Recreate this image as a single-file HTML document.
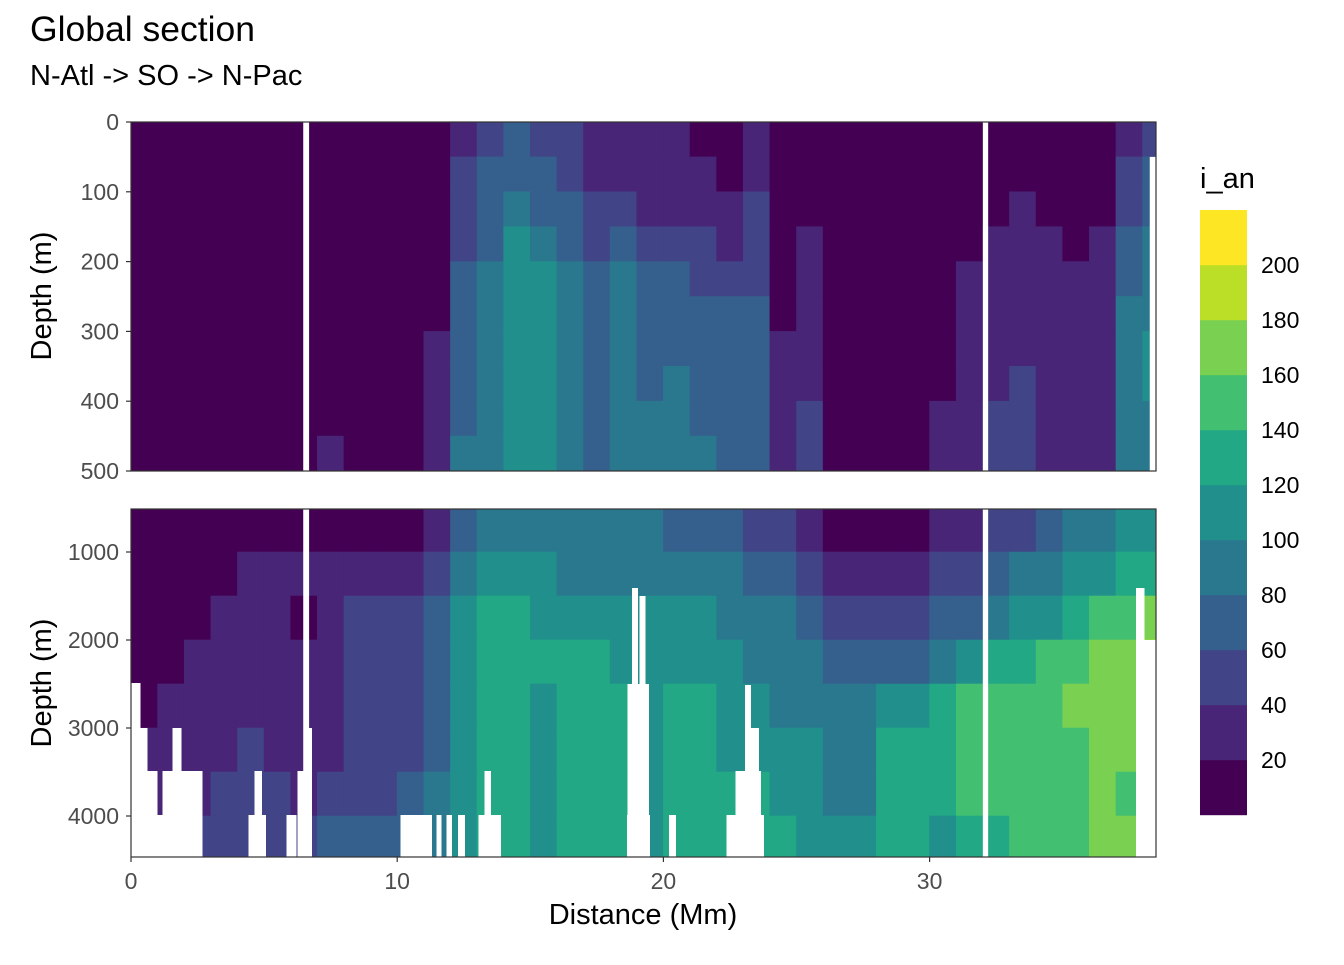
<!DOCTYPE html>
<html><head><meta charset="utf-8">
<style>
body{margin:0;background:#fff;}
svg text{font-family:"Liberation Sans",sans-serif;}
</style></head>
<body>
<svg id="chart" xmlns="http://www.w3.org/2000/svg" width="1344" height="960" viewBox="0 0 1344 960">
<rect width="1344" height="960" fill="#fff"/>
<text x="30" y="41" font-size="35.5" fill="#000">Global section</text>
<text x="30" y="85" font-size="29" fill="#000">N-Atl -&gt; SO -&gt; N-Pac</text>
<defs>
<clipPath id="clipTop"><rect x="131" y="122" width="1025" height="349"/></clipPath>
<clipPath id="clipBot"><rect x="131" y="509" width="1025" height="348"/></clipPath>
</defs>
<g id="topPanel" clip-path="url(#clipTop)"></g>
<g id="botPanel" clip-path="url(#clipBot)"></g>
<rect x="131" y="122" width="1025" height="349" fill="none" stroke="#333" stroke-width="1.2"/>
<rect x="131" y="509" width="1025" height="348" fill="none" stroke="#333" stroke-width="1.2"/>
<g id="axes"></g>
<text transform="translate(51,296) rotate(-90)" text-anchor="middle" font-size="29" fill="#000">Depth (m)</text>
<text transform="translate(51,683) rotate(-90)" text-anchor="middle" font-size="29" fill="#000">Depth (m)</text>
<text x="643" y="924" text-anchor="middle" font-size="29" fill="#000">Distance (Mm)</text>
<text x="1200" y="188" font-size="29" fill="#000">i_an</text>
<g id="legend"></g>
</svg>
<script>
const viridis = ["#440154","#482576","#414487","#35608D","#2A788E","#21908C","#22A884","#43BF71","#7AD151","#BBDF27","#FDE725"];
const legendBreaks = [20,40,60,80,100,120,140,160,180,200];
const distances = [0,1,2,3,4,5,6,7,8,9,10,11,12,13,14,15,16,17,18,19,20,21,22,23,24,25,26,27,28,29,30,31,32,33,34,35,36,37,38];
const topDepthEdges = [0,50,100,150,200,250,300,350,400,450,500];
const botDepthEdges = [500,1000,1500,2000,2500,3000,3500,4000,4500];
const topTicks = [0,100,200,300,400,500];
const botTicks = [1000,2000,3000,4000];
const xTicks = [0,10,20,30];
// i_an values, one array per distance column, shallow -> deep
const topCols = [
[10,10,10,10,10,10,10,10,10,10],[10,10,10,10,10,10,10,10,10,10],[10,10,10,10,10,10,10,10,10,10],
[10,10,10,10,10,10,10,10,10,10],[10,10,10,10,10,10,10,10,10,10],[10,10,10,10,10,10,10,10,10,10],
[10,10,10,10,10,10,10,10,10,10],[10,10,10,10,10,10,10,10,10,30],[10,10,10,10,10,10,10,10,10,10],
[10,10,10,10,10,10,10,10,10,10],[10,10,10,10,10,10,10,10,10,10],
[10,10,10,10,10,10,30,30,30,30],
[30,50,50,50,70,70,70,70,70,90],
[50,70,70,70,90,90,90,90,90,90],
[70,70,90,110,110,110,110,110,110,110],
[50,70,70,90,110,110,110,110,110,110],
[50,50,70,70,90,90,90,90,90,90],
[30,30,50,50,70,70,70,70,70,70],
[30,30,50,70,90,90,90,90,90,90],
[30,30,30,50,70,70,70,70,90,90],
[30,30,30,50,70,70,70,90,90,90],
[10,30,30,50,50,70,70,70,70,90],
[10,10,30,30,50,70,70,70,70,70],
[30,30,50,50,50,70,70,70,70,70],
[10,10,10,10,10,10,30,30,30,30],
[10,10,10,30,30,30,30,30,50,50],
[10,10,10,10,10,10,10,10,10,10],[10,10,10,10,10,10,10,10,10,10],[10,10,10,10,10,10,10,10,10,10],[10,10,10,10,10,10,10,10,10,10],
[10,10,10,10,10,10,10,10,30,30],
[10,10,10,10,30,30,30,30,30,30],
[10,10,10,30,30,30,30,30,50,50],
[10,10,30,30,30,30,30,50,50,50],
[10,10,10,30,30,30,30,30,30,30],
[10,10,10,10,30,30,30,30,30,30],
[10,10,10,30,30,30,30,30,30,30],
[30,50,50,70,70,90,90,90,90,90],
[50,70,70,90,90,90,110,110,90,90]
];
const botCols = [
[10,10,10,10,10,30,30,30],[10,10,10,10,30,30,30,30],[10,10,10,30,30,30,30,50],[10,10,30,30,30,30,50,50],
[10,30,30,30,30,50,50,50],[10,30,30,30,30,30,50,50],[10,30,10,30,30,30,30,50],[10,30,30,30,30,30,50,70],
[10,30,50,50,50,50,50,70],[10,30,50,50,50,50,50,70],[10,30,50,50,50,50,70,70],
[30,50,70,70,70,70,90,90],
[70,90,110,110,110,110,110,110],
[90,110,130,130,130,130,130,130],
[90,110,130,130,130,130,130,130],
[90,110,110,130,110,110,110,110],
[90,90,110,130,130,130,130,130],
[90,90,110,130,130,130,130,130],
[90,90,110,110,130,130,130,130],
[90,90,110,110,110,110,110,110],
[70,90,110,110,130,130,130,130],
[70,90,110,110,130,130,130,130],
[70,90,90,110,110,110,130,130],
[50,70,90,90,110,110,130,130],
[50,70,90,90,90,110,110,130],
[30,50,70,90,90,110,110,110],
[10,30,50,70,90,90,90,110],
[10,30,50,70,90,90,90,110],
[10,30,50,70,110,130,130,130],
[10,30,50,70,110,130,130,130],
[30,50,70,90,130,130,130,110],
[30,50,70,110,150,150,150,130],
[50,70,90,130,150,150,150,130],
[50,90,110,130,150,150,150,150],
[70,90,110,150,150,150,150,150],
[90,110,130,150,170,150,150,150],
[90,110,150,170,170,170,170,170],
[110,130,150,170,170,170,150,170],
[110,130,170,190,190,190,190,190]
];
// missing-data vertical gaps (distance start/end, Mm)
const gapStarts = [6.47, 32.0];
const gapEnds = [6.69, 32.2];
// bottom topography masks
const bathyD0 = [0,0.34,0.6,0.98,1.2,1.58,1.88,4.44,4.66,5.86,6.28,6.54,10.15,11.5,11.88,12.3,13.08,13.3,13.5,18.65,18.68,18.84,19.12,20.23,22.4,22.74,23.08,23.27,37.78,37.78];
const bathyD1 = [0.34,0.6,0.98,1.2,1.58,1.88,2.67,5.04,4.89,6.2,6.54,6.77,11.28,11.65,12.03,12.52,13.38,13.5,13.87,19.47,19.44,19.03,19.3,20.45,23.76,23.65,23.27,23.57,38.05,38.6];
const bathyZ = [2489,3000,3490,3990,3490,3000,3490,3990,3490,3990,3490,3000,3990,3990,3990,3990,3990,3490,3990,3990,2500,1410,1500,3990,3990,3490,2510,3000,1410,2000];

const NS="http://www.w3.org/2000/svg";
const xS = d => 131 + d*26.62;
const yT = z => 122 + z*0.698;
const yB = z => 552 + (z-1000)*0.088;
const colorOf = v => viridis[Math.max(0,Math.min(10,Math.floor(v/20)))];
function mk(tag, attrs, parent){const e=document.createElementNS(NS,tag);for(const k in attrs)e.setAttribute(k,attrs[k]);parent.appendChild(e);return e;}

const topG = document.getElementById('topPanel');
const botG = document.getElementById('botPanel');
topTicks.forEach(t=>{const l=mk('line',{x1:131,x2:1156,y1:yT(t),y2:yT(t),stroke:'#ebebeb','stroke-width':1.2},topG);

});
botTicks.forEach(t=>{const l=mk('line',{x1:131,x2:1156,y1:yB(t),y2:yB(t),stroke:'#ebebeb','stroke-width':1.2},botG);

});

distances.forEach((d,i)=>{
  topCols[i].forEach((v,j)=>{
    const r=mk('rect',{x:xS(d)-0.3,y:yT(topDepthEdges[j])-0.3,width:xS(d+1)-xS(d)+0.6,height:yT(topDepthEdges[j+1])-yT(topDepthEdges[j])+0.6,fill:colorOf(v)},topG);
    
    
  });
  botCols[i].forEach((v,j)=>{
    const r=mk('rect',{x:xS(d)-0.3,y:yB(botDepthEdges[j])-0.3,width:xS(d+1)-xS(d)+0.6,height:yB(botDepthEdges[j+1])-yB(botDepthEdges[j])+0.6,fill:colorOf(v)},botG);
    
    
  });
});
gapStarts.forEach((g,i)=>{
  [[topG,yT(0),yT(500)],[botG,yB(500),yB(4500)]].forEach(([p,y0,y1])=>{
    const r=mk('rect',{x:xS(g),y:y0,width:xS(gapEnds[i])-xS(g),height:y1-y0,fill:'#fff'},p);
    
    
  });
});
{const r=mk('rect',{x:xS(38.27),y:yT(50),width:20,height:400,fill:'#fff'},topG);

}
bathyD0.forEach((d0,i)=>{
  const r=mk('rect',{x:xS(d0)-0.6,y:yB(bathyZ[i]),width:xS(bathyD1[i])-xS(d0)+1.2,height:yB(4600)-yB(bathyZ[i]),fill:'#fff','shape-rendering':'crispEdges'},botG);
  
  
});

const ax=document.getElementById('axes');
function tick(x1,y1,x2,y2){const l=mk('line',{x1,y1,x2,y2,stroke:'#333','stroke-width':1.2},ax);

}
function lab(x,y,t,anchor){const e=mk('text',{x,y,'text-anchor':anchor,'font-size':23,fill:'#4d4d4d'},ax);e.textContent=t;

}
topTicks.forEach(t=>{tick(126,yT(t),131,yT(t));lab(119,yT(t)+8,t,'end');});
botTicks.forEach(t=>{tick(126,yB(t),131,yB(t));lab(119,yB(t)+8,t,'end');});
xTicks.forEach(t=>{tick(xS(t),857,xS(t),862);lab(xS(t),889,t,'middle');});

const lg=document.getElementById('legend');
viridis.forEach((c,i)=>{
  const r=mk('rect',{x:1200,y:815-(i+1)*55,width:47,height:55.2,fill:c},lg);
  
  
});
legendBreaks.forEach((b,i)=>{
  const y=815-(i+1)*55;
  const e=mk('text',{x:1261,y:y+8,'font-size':23,fill:'#000'},lg);e.textContent=b;
  
  
});
</script>
</body></html>
